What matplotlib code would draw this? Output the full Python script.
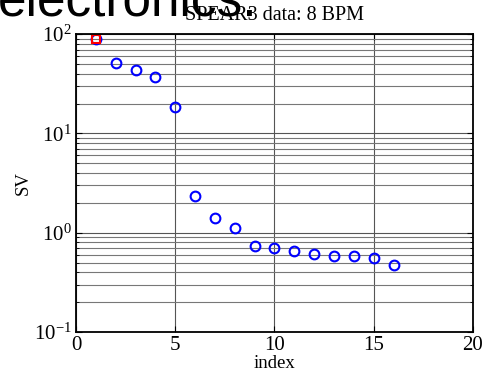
import matplotlib
matplotlib.use("Agg")
import matplotlib.pyplot as plt
import numpy as np

# singular values
index = np.arange(1, 17)
sv = [89, 51, 44, 37, 18.4, 2.34, 1.40, 1.11, 0.73, 0.70, 0.65, 0.61, 0.585, 0.585, 0.55, 0.47]
first_idx = [1]
first_sv = [89]

plt.rcParams['font.family'] = ['Liberation Serif', 'DejaVu Serif']
plt.rcParams['mathtext.fontset'] = 'custom'
plt.rcParams['mathtext.rm'] = 'Liberation Serif'
plt.rcParams['mathtext.it'] = 'Liberation Serif:italic'

fig = plt.figure(figsize=(4.82, 3.75), dpi=100)
ax = fig.add_axes([0.158, 0.1147, 0.823, 0.7943])

ax.semilogy(index, sv, 'o', color='#0000ff', markersize=7, markerfacecolor='none', markeredgewidth=1.5)
ax.semilogy(first_idx, first_sv, 's', color='#ff0000', markersize=6, markerfacecolor='none', markeredgewidth=1.5)

ax.set_xlim(0, 20)
ax.set_ylim(0.1, 100)
ax.set_xticks([0, 5, 10, 15, 20])
ax.grid(True, which='major', color='#555555', linewidth=0.8)
ax.grid(True, which='minor', axis='y', color='#777777', linewidth=0.8)
ax.tick_params(which='both', direction='in', top=True, right=True, labelsize=15, colors='black')
ax.tick_params(which='major', length=4, pad=3)
ax.tick_params(which='minor', length=2)
for s in ax.spines.values():
    s.set_linewidth(1.3)

ax.set_xlabel('index', fontsize=13.5, labelpad=0)
ax.set_ylabel('SV', fontsize=13.5, labelpad=2)
ax.set_title('SPEAR3 data: 8 BPM', fontsize=14.5, pad=10)

# leftover slide text cut at the top
fig.text(-0.005, 0.96, 'electronics.', family='Liberation Sans', fontsize=37, va='baseline', ha='left')

fig.savefig('out.png', dpi=100)
